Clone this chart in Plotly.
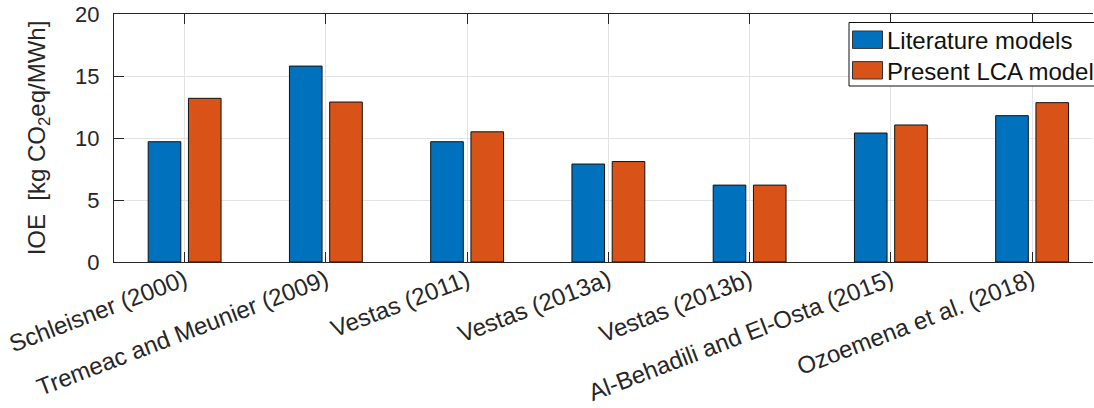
import plotly.graph_objects as go

# Studies compared and their IOE results [kg CO2eq/MWh]
studies = [
    "Schleisner (2000)",
    "Tremeac and Meunier (2009)",
    "Vestas (2011)",
    "Vestas (2013a)",
    "Vestas (2013b)",
    "Al-Behadili and El-Osta (2015)",
    "Ozoemena et al. (2018)",
]
literature = [9.7, 15.8, 9.7, 7.9, 6.2, 10.4, 11.8]
present_lca = [13.2, 12.9, 10.5, 8.1, 6.2, 11.05, 12.85]

series_names = ["Literature models", "Present LCA model"]
series_colors = ["#0072BD", "#D95319"]

y_ticks = [0, 5, 10, 15, 20]

W, H = 1094, 408
ML, MR, MT, MB = 114, 1, 14, 146
PW, PH = W - ML - MR, H - MT - MB

FONT = "Liberation Sans, Arial, Helvetica, sans-serif"
INK = "#262626"

fig = go.Figure()
for name, vals, col in zip(series_names, [literature, present_lca], series_colors):
    fig.add_trace(go.Bar(
        x=studies, y=vals, name=name,
        marker=dict(color=col, line=dict(color="#111111", width=1)),
        showlegend=False,
    ))


def px(x):
    return (x - ML) / PW


def py(y):
    return (MT + PH - y) / PH


# Legend box drawn in the upper-right corner of the axes
shapes = [dict(type="rect", xref="paper", yref="paper",
               x0=px(849), x1=px(1100), y0=py(86), y1=py(22.5),
               fillcolor="white", line=dict(color="#111111", width=1), layer="above")]
annotations = []
row_centres = [39.7, 70.3]
for name, col, yc in zip(series_names, series_colors, row_centres):
    shapes.append(dict(type="rect", xref="paper", yref="paper",
                       x0=px(852.5), x1=px(882.5), y0=py(yc + 8.7), y1=py(yc - 8.7),
                       fillcolor=col, line=dict(color="#333333", width=1), layer="above"))
    annotations.append(dict(xref="paper", yref="paper", x=px(884.5), y=py(yc + 1),
                            text=name, showarrow=False, xanchor="left", yanchor="middle",
                            font=dict(family=FONT, size=24, color="#111111")))

fig.update_layout(
    width=W, height=H,
    margin=dict(l=ML, r=MR, t=MT, b=MB, pad=0),
    paper_bgcolor="white", plot_bgcolor="white",
    barmode="group", bargap=0.43, bargroupgap=0.19,
    font=dict(family=FONT, size=22, color=INK),
    shapes=shapes, annotations=annotations,
    xaxis=dict(
        type="category", range=[-0.5, 6.431], automargin=False,
        showgrid=True, gridcolor="#e3e3e3", gridwidth=1,
        showline=True, linecolor=INK, linewidth=1, mirror="allticks",
        ticks="inside", ticklen=10, tickcolor=INK, tickwidth=1,
        tickangle=-21, ticklabelstandoff=-6, tickfont=dict(size=24, color=INK),
    ),
    yaxis=dict(
        range=[0, 20], tickvals=y_ticks, automargin=False,
        showgrid=True, gridcolor="#e3e3e3", gridwidth=1,
        showline=True, linecolor=INK, linewidth=1,
        ticks="inside", ticklen=10, tickcolor=INK, tickwidth=1,
        ticklabelstandoff=9, tickfont=dict(size=22, color=INK),
        zeroline=False,
        title=dict(text="IOE&#160; [kg CO<sub>2</sub>eq/MWh]",
                   font=dict(size=24, color=INK), standoff=22),
    ),
)

fig.write_html("out.html")
